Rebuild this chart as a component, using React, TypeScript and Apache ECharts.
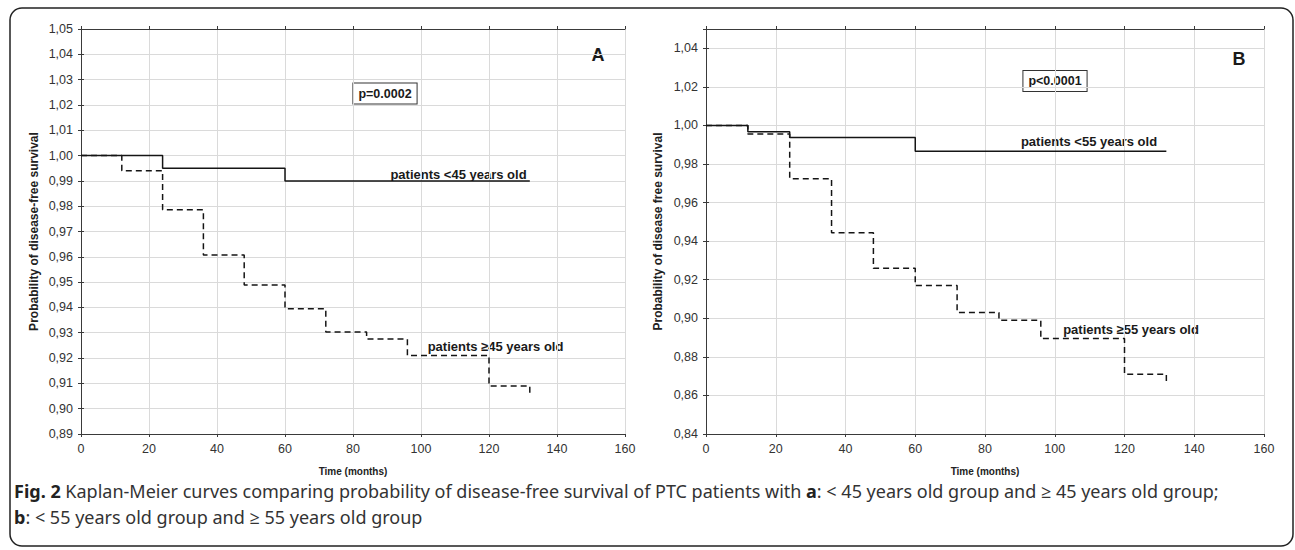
import React, { useEffect, useRef } from "react";
import * as echarts from "echarts";

// ---- Data ----
const timeAYoung = [0, 24, 60, 132];
const survAYoung = [1.0, 0.995, 0.99, 0.99];
const timeAOld = [0, 12, 24, 36, 48, 60, 72, 84, 96, 120, 132];
const survAOld = [1.0, 0.994, 0.9786, 0.9607, 0.9489, 0.9395, 0.9303, 0.9275, 0.921, 0.909, 0.906];

const timeBYoung = [0, 12, 24, 60, 132];
const survBYoung = [1.0, 0.9967, 0.9937, 0.9866, 0.9866];
const timeBOld = [0, 12, 24, 36, 48, 60, 72, 84, 96, 120, 132];
const survBOld = [1.0, 0.9955, 0.9724, 0.9443, 0.9259, 0.917, 0.903, 0.899, 0.8895, 0.871, 0.8667];

const xTicks = { min: 0, max: 160, interval: 20 };
const yTicksA = { min: 0.89, max: 1.05, interval: 0.01 };
const yTicksB = { min: 0.84, max: 1.05, interval: 0.02 };

const FONT = "'Liberation Sans', Arial, sans-serif";
const CAP_FONT = "'Noto Sans', 'Open Sans', sans-serif";

const pairs = (t: number[], s: number[]) => t.map((v, i) => [v, s[i]]);

const gridLine = { show: true, lineStyle: { color: "#dadada", width: 1 } };
const axisLineStyle = { show: true, lineStyle: { color: "#3a3a3a", width: 1 } };

function xAxes(gridIndex: number) {
  return [
    {
      gridIndex,
      type: "value",
      position: "bottom",
      ...xTicks,
      axisLine: axisLineStyle,
      axisTick: { show: true, length: 3, lineStyle: { color: "#3a3a3a" } },
      axisLabel: { color: "#333", fontFamily: FONT, fontSize: 12.5, margin: 8 },
      splitLine: gridLine,
      name: "Time (months)",
      nameLocation: "middle",
      nameGap: 32,
      nameTextStyle: { color: "#222", fontFamily: FONT, fontSize: 10, fontWeight: "bold" },
    },
    {
      gridIndex,
      type: "value",
      position: "top",
      ...xTicks,
      axisLine: axisLineStyle,
      axisTick: { show: true, length: 3, lineStyle: { color: "#3a3a3a" } },
      axisLabel: { show: false },
      splitLine: { show: false },
    },
  ];
}

function yAxes(gridIndex: number, ticks: any, name: string, gap: number, maxLabel: number) {
  return [
    {
      gridIndex,
      type: "value",
      position: "left",
      ...ticks,
      axisLine: axisLineStyle,
      axisTick: { show: true, length: 3, lineStyle: { color: "#3a3a3a" } },
      axisLabel: {
        color: "#333",
        fontFamily: FONT,
        fontSize: 12.5,
        margin: 8,
        formatter: (v: number) => (v > maxLabel + 1e-6 ? "" : v.toFixed(2).replace(".", ",")),
      },
      splitLine: gridLine,
      name,
      nameLocation: "middle",
      nameGap: gap,
      nameTextStyle: { color: "#222", fontFamily: FONT, fontSize: 12, fontWeight: "bold" },
    },
    {
      gridIndex,
      type: "value",
      position: "right",
      ...ticks,
      axisLine: axisLineStyle,
      axisTick: { show: true, length: 3, lineStyle: { color: "#3a3a3a" } },
      axisLabel: { show: false },
      splitLine: { show: false },
    },
  ];
}

function curve(data: number[][], xi: number, yi: number, dashed: boolean) {
  return {
    type: "line",
    xAxisIndex: xi,
    yAxisIndex: yi,
    data,
    step: "end",
    showSymbol: false,
    symbol: "none",
    lineStyle: { color: "#151515", width: 1.5, type: dashed ? [6, 4] : "solid" },
    silent: true,
  };
}

const boldText = (text: string, x: number, y: number, size: number, extra: any = {}) => ({
  type: "text",
  x,
  y,
  style: {
    text,
    fill: "#1a1a1a",
    font: `bold ${size}px ${FONT}`,
    align: "center",
    verticalAlign: "middle",
    ...extra,
  },
});

const boxed = { borderColor: "#333", borderWidth: 1, backgroundColor: "#fff", padding: [4, 5, 3, 5] };

export default function App() {
  const ref = useRef<HTMLDivElement>(null);
  useEffect(() => {
    document.body.style.margin = "0";
    const chart = echarts.init(ref.current!, undefined, { renderer: "svg" });
    chart.setOption({
      animation: false,
      backgroundColor: "#fff",
      grid: [
        { left: 81, top: 29, width: 544, height: 405, show: false },
        { left: 706, top: 29, width: 558, height: 405, show: false },
      ],
      xAxis: [...xAxes(0), ...xAxes(1)],
      yAxis: [
        ...yAxes(0, yTicksA, "Probability of disease-free survival", 41, 1.05),
        ...yAxes(1, yTicksB, "Probability of disease free survival", 42, 1.04),
      ],
      series: [
        curve(pairs(timeAYoung, survAYoung), 0, 0, false),
        curve(pairs(timeAOld, survAOld), 0, 0, true),
        curve(pairs(timeBYoung, survBYoung), 2, 2, false),
        curve(pairs(timeBOld, survBOld), 2, 2, true),
      ],
      graphic: [
        {
          type: "rect",
          shape: { x: 10, y: 8, width: 1283, height: 538, r: 12 },
          style: { fill: "none", stroke: "#222", lineWidth: 1.5 },
          silent: true,
        },
        boldText("A", 598, 55, 18),
        boldText("p=0.0002", 385, 93.5, 12.5, boxed),
        boldText("patients <45 years old", 458.5, 174, 13),
        boldText("patients \u226545 years old", 495.5, 346, 13),
        boldText("B", 1239, 59, 18),
        boldText("p<0.0001", 1055, 81, 12.5, boxed),
        boldText("patients <55 years old", 1089, 141, 13),
        boldText("patients \u226555 years old", 1131, 329, 13),
        {
          type: "text",
          x: 14,
          y: 478,
          style: {
            text:
              "{b|Fig. 2} Kaplan-Meier curves comparing probability of disease-free survival of PTC patients with {b|a}: < 45 years old group and \u2265 45 years old group;\n{b|b}: < 55 years old group and \u2265 55 years old group",
            font: `18px ${CAP_FONT}`,
            fill: "#333",
            lineHeight: 26,
            verticalAlign: "top",
            align: "left",
            rich: {
              b: { fontWeight: "bold", fontSize: 18, fontFamily: CAP_FONT, fill: "#222", lineHeight: 26 },
            },
          },
        },
      ],
    });
    return () => chart.dispose();
  }, []);
  return <div ref={ref} style={{ width: 1295, height: 550 }} />;
}
